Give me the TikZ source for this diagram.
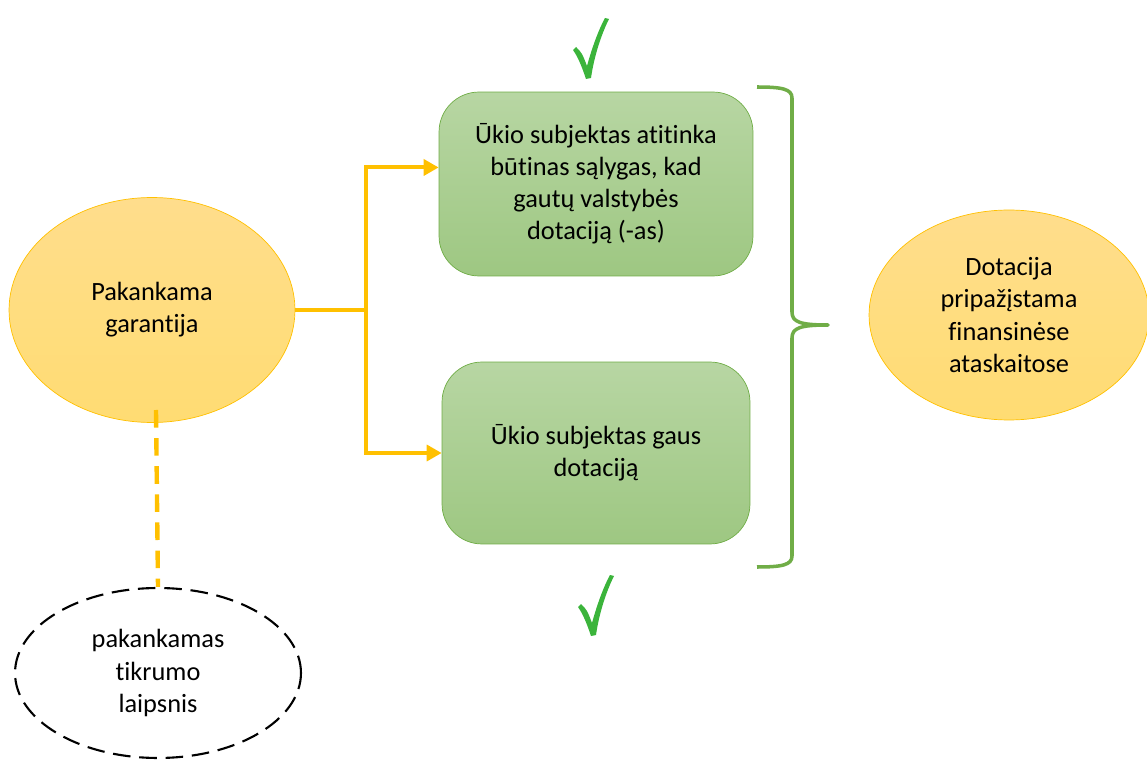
\documentclass[tikz,border=0pt]{standalone}
\usepackage{fontspec}
\setmainfont{Carlito}[Ligatures = NoCommon]
\usetikzlibrary{arrows.meta, shapes.geometric}
\definecolor{gold}{HTML}{FFC000}
\definecolor{leaf}{HTML}{70AD47}
\definecolor{tick}{HTML}{3BB43B}
\begin{document}
\begin{tikzpicture}[
  x = 0.02cm, y = -0.02cm,
  blob/.style = {
    shape = ellipse,
    align = center,
    inner sep = 0pt,
    font = \fontsize{15}{18.3}\selectfont,
  },
  oval/.style = {
    blob,
    draw = gold,
    top color = orange!20!gold!45,
    bottom color = gold!55,
  },
  step box/.style = {
    shape = rectangle,
    rounded corners = 0.8cm,
    draw = leaf,
    top color = leaf!50,
    bottom color = leaf!68,
    align = center,
    font = \fontsize{15}{18.3}\selectfont,
  },
  tickmark/.pic = {
    \fill[tick] (-15, -29) -- (-12, -32) .. controls (-6, -26) .. (-1, -13)
      .. controls (5, -35) and (12, -52) .. (17, -61) -- (21, -60)
      .. controls (13, -44) and (6, -22) .. (3, -1) -- (-2, 0)
      .. controls (-6, -12) and (-10, -22) .. cycle;
  }
]
  \useasboundingbox (0, 0) rectangle (1147, 760);

  \node[oval, minimum width = 5.72cm, minimum height = 4.5cm] (guarantee) at (152, 310) {Pakankama\\garantija};
  \node[oval, minimum width = 5.6cm, minimum height = 4.2cm] (recognised) at (1009, 315) {Dotacija\\pripažįstama\\finansinėse\\ataskaitose};
  \node[blob, draw = black, dash pattern = on 10pt off 5pt, line width = 1.2pt,
        minimum width = 5.72cm, minimum height = 3.4cm] (certainty) at (158, 673) {pakankamas\\tikrumo\\laipsnis};

  \node[step box, minimum width = 6.28cm, minimum height = 3.68cm] (meets) at (596, 184)
    {Ūkio subjektas atitinka\\būtinas sąlygas, kad\\gautų valstybės\\dotaciją (-as)};
  \node[step box, minimum width = 6.16cm, minimum height = 3.64cm] (receives) at (596, 453)
    {Ūkio subjektas gaus\\dotaciją};

  \pic at (588, 79) {tickmark};
  \pic at (593, 636) {tickmark};

  \coordinate (fork) at (366, 310);

  \begin{scope}[
    every path/.style = { draw = gold, line width = 2.3pt }
  ]
    \draw (guarantee.east) -- (fork);
    \draw[-{Triangle[length = 8.5pt, width = 9pt]}] (fork) |- (meets.174.5);
    \draw[-{Triangle[length = 8.5pt, width = 9pt]}] (fork) |- (receives.west);
    \draw[dash pattern = on 10pt off 6pt, line width = 2.5pt] (156, 410) -- (certainty.north);
  \end{scope}

  % brace
  \draw[leaf, line width = 2pt, line join = round]
    (757, 87) .. controls (782, 87) and (792, 89) .. (792, 98)
    -- (792, 312) .. controls (792, 322) and (800, 325) .. (828, 325)
    .. controls (800, 325) and (792, 328) .. (792, 338)
    -- (792, 556) .. controls (792, 565) and (782, 567) .. (757, 567);
\end{tikzpicture}
\end{document}
